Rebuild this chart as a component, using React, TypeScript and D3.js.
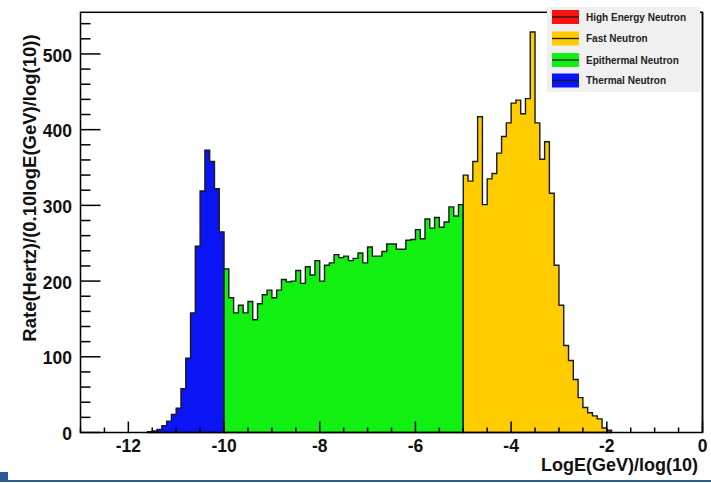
import React, { useEffect, useRef } from 'react';
import * as d3 from 'd3';

// bin contents, 0.1 wide bins in log10(E/GeV)
const binWidth = 0.1;
const thermalStart = -11.6;
const thermal = [1, 2, 4, 9, 15, 24, 32, 58, 98, 158, 246, 319, 373, 358, 322, 265];
const epithermalStart = -10;
const epithermal = [
  216, 178, 158, 168, 158, 173, 149, 170, 182, 188,
  178, 188, 202, 199, 200, 214, 197, 219, 208, 227,
  200, 221, 224, 235, 231, 233, 227, 230, 237, 224,
  245, 233, 233, 239, 249, 249, 242, 242, 254, 255,
  268, 256, 282, 270, 284, 271, 278, 298, 286, 301,
];
const fastStart = -5;
const fast = [
  340, 332, 358, 417, 301, 335, 342, 369, 391, 409,
  435, 439, 421, 441, 529, 409, 361, 384, 316, 221,
  168, 115, 95, 70, 46, 33, 26, 22, 18, 6,
];
const highStart = -2;
const high = [3];

const seriesNames = ['High Energy Neutron', 'Fast Neutron', 'Epithermal Neutron', 'Thermal Neutron'];
const seriesColors = ['#ff1010', '#ffcc00', '#12f012', '#0a14f5'];

const xTicks = [-12, -10, -8, -6, -4, -2, 0];
const yTicks = [0, 100, 200, 300, 400, 500];

const FONT = '"Liberation Sans", Arial, Helvetica, sans-serif';

const App = () => {
  const ref = useRef<SVGSVGElement>(null);

  useEffect(() => {
    const svg = d3.select(ref.current);
    svg.selectAll('*').remove();

    const left = 80.5, right = 702.5, top = 12.3, bottom = 432.5;
    const x = d3.scaleLinear().domain([-13, 0]).range([left, right]);
    const y = d3.scaleLinear().domain([0, 555]).range([bottom, top]);

    const hists = [
      { start: thermalStart, values: thermal, color: seriesColors[3] },
      { start: epithermalStart, values: epithermal, color: seriesColors[2] },
      { start: fastStart, values: fast, color: seriesColors[1] },
      { start: highStart, values: high, color: seriesColors[0] },
    ];

    const area = d3.area<{ e: number; v: number }>()
      .curve(d3.curveStepAfter)
      .x(d => x(d.e))
      .y0(y(0))
      .y1(d => y(d.v));

    const g = svg.append('g');
    hists.forEach(h => {
      const pts = h.values.map((v, i) => ({ e: h.start + i * binWidth, v }));
      pts.push({ e: h.start + h.values.length * binWidth, v: h.values[h.values.length - 1] });
      g.append('path')
        .attr('d', area(pts))
        .attr('fill', h.color)
        .attr('stroke', '#1a1a1a')
        .attr('stroke-width', 1.4)
        .attr('stroke-linejoin', 'miter');
    });

    // frame
    svg.append('rect')
      .attr('x', left).attr('y', top)
      .attr('width', right - left).attr('height', bottom - top)
      .attr('fill', 'none').attr('stroke', '#000').attr('stroke-width', 1.5);

    // x ticks
    const xMinor = d3.range(-13, 0.001, 0.5);
    svg.append('g').selectAll('line').data(xMinor).join('line')
      .attr('x1', d => x(d)).attr('x2', d => x(d))
      .attr('y1', bottom).attr('y2', d => bottom - (Math.abs(d % 2) < 1e-6 ? 11 : 5))
      .attr('stroke', '#000').attr('stroke-width', 1.5);

    svg.append('g').selectAll('text').data(xTicks).join('text')
      .attr('x', d => x(d)).attr('y', 452)
      .attr('text-anchor', 'middle')
      .attr('font-family', FONT).attr('font-weight', 'bold').attr('font-size', 17.5)
      .attr('fill', '#111')
      .text(d => d);

    // y ticks
    const yMinor = d3.range(0, 541, 20);
    svg.append('g').selectAll('line').data(yMinor).join('line')
      .attr('x1', left).attr('x2', d => left + (d % 100 === 0 ? 20 : 10))
      .attr('y1', d => y(d)).attr('y2', d => y(d))
      .attr('stroke', '#000').attr('stroke-width', 1.5);

    svg.append('g').selectAll('text').data(yTicks).join('text')
      .attr('x', 72).attr('y', d => y(d) + 7.7)
      .attr('text-anchor', 'end')
      .attr('font-family', FONT).attr('font-weight', 'bold').attr('font-size', 17.5)
      .attr('fill', '#111')
      .text(d => d);

    // axis titles
    svg.append('text')
      .attr('x', 698).attr('y', 471)
      .attr('text-anchor', 'end')
      .attr('font-family', FONT).attr('font-weight', 'bold').attr('font-size', 18)
      .attr('fill', '#111')
      .text('LogE(GeV)/log(10)');

    svg.append('text')
      .attr('transform', 'translate(36,188) rotate(-90)')
      .attr('text-anchor', 'middle')
      .attr('font-family', FONT).attr('font-weight', 'bold').attr('font-size', 18.5)
      .attr('fill', '#111')
      .text('Rate(Hertz)/(0.10logE(GeV)/log(10))');

    // legend
    const lg = svg.append('g');
    lg.append('rect')
      .attr('x', 547).attr('y', 7).attr('width', 153).attr('height', 85)
      .attr('fill', '#f0f0f0');
    const rowY = [17, 38.5, 60, 80.5];
    seriesNames.forEach((name, i) => {
      lg.append('rect')
        .attr('x', 552).attr('y', rowY[i] - 7).attr('width', 27).attr('height', 14)
        .attr('fill', seriesColors[i]);
      lg.append('line')
        .attr('x1', 552).attr('x2', 579).attr('y1', rowY[i]).attr('y2', rowY[i])
        .attr('stroke', '#1a1a1a').attr('stroke-width', 1.3);
      lg.append('text')
        .attr('x', 586).attr('y', rowY[i] + 3.6)
        .attr('font-family', FONT).attr('font-weight', 'bold').attr('font-size', 10)
        .attr('fill', '#222')
        .text(name);
    });
    svg.append('line')
      .attr('x1', right).attr('x2', right).attr('y1', top).attr('y2', bottom)
      .attr('stroke', '#000').attr('stroke-width', 1.5);

    // page decoration at the bottom
    svg.append('rect').attr('x', 0).attr('y', 472).attr('width', 8).attr('height', 9).attr('fill', '#2a5a9a');
    svg.append('line').attr('x1', 0).attr('x2', 711).attr('y1', 481).attr('y2', 481)
      .attr('stroke', '#2a5a9a').attr('stroke-width', 2);
  }, []);

  return (
    <svg
      ref={ref}
      width={711}
      height={483}
      style={{ position: 'absolute', left: 0, top: 0, background: '#fff' }}
    />
  );
};

export default App;
